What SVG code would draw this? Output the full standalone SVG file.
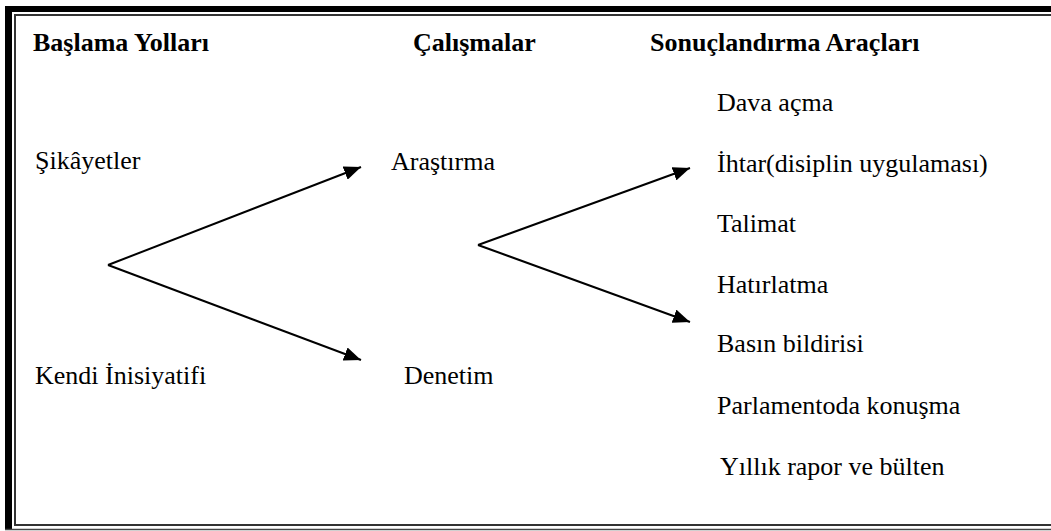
<svg xmlns="http://www.w3.org/2000/svg" width="1051" height="531" viewBox="0 0 1051 531">
<defs>
<style>
.h{font-weight:bold}
.c{stroke:#000;stroke-width:2;fill:none}
</style>
<marker id="ah" markerUnits="userSpaceOnUse" markerWidth="20" markerHeight="14" refX="17" refY="7" orient="auto">
<path d="M0,0 L17,7 L0,14 Z" fill="#000"/>
</marker>
</defs>
<rect width="1051" height="531" fill="#fff"/>
<g id="frame">
<rect x="5" y="6" width="1046" height="6" fill="#000"/>
<rect x="5" y="6" width="7" height="523" fill="#000"/>
<path d="M1051,15 H15 V525 H1051" fill="none" stroke="#333" stroke-width="2"/>
<line x1="5" y1="529.5" x2="1051" y2="529.5" stroke="#444" stroke-width="1.5"/>
</g>
<g id="labels" font-family="Liberation Serif, Times New Roman, serif" font-size="26" fill="#000">
<g id="headers">
<text class="h" x="33" y="51">Başlama Yolları</text>
<text class="h" x="413" y="51">Çalışmalar</text>
<text class="h" x="650" y="51">Sonuçlandırma Araçları</text>
</g>
<g id="n-sikayetler"><text x="35" y="169">Şikâyetler</text></g>
<g id="n-kendi"><text x="35" y="384">Kendi İnisiyatifi</text></g>
<g id="n-arastirma"><text x="391" y="170">Araştırma</text></g>
<g id="n-denetim"><text x="404" y="384">Denetim</text></g>
<g id="n-dava"><text x="717" y="111">Dava açma</text></g>
<g id="n-ihtar"><text x="717" y="172">İhtar(disiplin uygulaması)</text></g>
<g id="n-talimat"><text x="717" y="232">Talimat</text></g>
<g id="n-hatirlatma"><text x="717" y="293">Hatırlatma</text></g>
<g id="n-basin"><text x="717" y="352">Basın bildirisi</text></g>
<g id="n-parlamento"><text x="717" y="414">Parlamentoda konuşma</text></g>
<g id="n-yillik"><text x="720" y="475">Yıllık rapor ve bülten</text></g>
</g>
<g id="connectors">
<line class="c" x1="108" y1="265" x2="361" y2="167" marker-end="url(#ah)"/>
<line class="c" x1="108" y1="265" x2="361" y2="360" marker-end="url(#ah)"/>
<line class="c" x1="478" y1="245" x2="690" y2="168" marker-end="url(#ah)"/>
<line class="c" x1="478" y1="245" x2="690" y2="322" marker-end="url(#ah)"/>
</g>
</svg>
